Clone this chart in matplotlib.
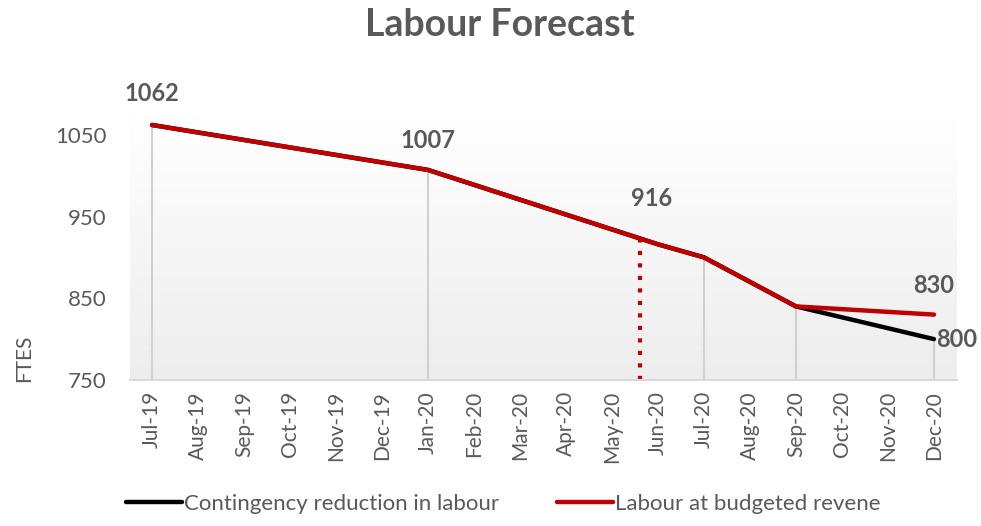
import numpy as np
import matplotlib
matplotlib.use("Agg")
import matplotlib.pyplot as plt
from matplotlib.colors import LinearSegmentedColormap

plt.rcParams['font.family'] = ['Lato', 'DejaVu Sans']

months = ["Jul-19", "Aug-19", "Sep-19", "Oct-19", "Nov-19", "Dec-19",
          "Jan-20", "Feb-20", "Mar-20", "Apr-20", "May-20", "Jun-20",
          "Jul-20", "Aug-20", "Sep-20", "Oct-20", "Nov-20", "Dec-20"]

# points (month index -> FTEs)
budget_x = [0, 6, 11, 12, 14, 17]
budget_y = [1062, 1007, 916, 900, 840, 830]
conting_x = [0, 6, 11, 12, 14, 17]
conting_y = [1062, 1007, 916, 900, 840, 800]

drop_x = [0, 6, 12, 14, 17]
drop_y = [1062, 1007, 900, 840, 800]

marker_x = 10.6   # red dotted marker between May-20 and Jun-20
marker_top = 925

# label text, x, y of the point, extra lift above the point
labels = [("1062", 0, 1062, 24), ("1007", 6, 1007, 22), ("916", 10.85, 916, 42),
          ("830", 17, 830, 22)]

grey = "#595959"
red = "#C00000"

fig = plt.figure(figsize=(9.81, 5.26), dpi=100)
ax = fig.add_axes([0.1325, 0.2776, 0.843, 0.505])

xmin, xmax = -0.48, 17.5
ymin, ymax = 750, 1075

# plot area gradient
cmap = LinearSegmentedColormap.from_list("bg", ["#ffffff", "#ededed"])
grad = np.linspace(0, 1, 256).reshape(-1, 1)
ax.imshow(grad, aspect="auto", cmap=cmap, extent=[xmin, xmax, ymin, ymax],
          origin="upper", zorder=0)

for x, y in zip(drop_x, drop_y):
    ax.plot([x, x], [ymin, y], color="#d0d0d0", lw=1.5, zorder=1)

ax.plot([marker_x, marker_x], [ymin, marker_top], color=red, lw=3,
        linestyle=(0, (1, 2)), dash_capstyle="butt", zorder=2)

l1, = ax.plot(conting_x, conting_y, color="black", lw=3.2, zorder=3,
              solid_capstyle="round", label="Contingency reduction in labour")
l2, = ax.plot(budget_x, budget_y, color=red, lw=3.2, zorder=4,
              solid_capstyle="round", label="Labour at budgeted revene")

for t, x, y, lift in labels:
    ax.text(x, y + lift, t, ha="center", va="bottom", fontsize=17,
            fontweight="bold", color=grey, clip_on=False)
ax.text(17.05, 800, "800", ha="left", va="center", fontsize=17,
        fontweight="bold", color=grey, clip_on=False)

ax.set_xlim(xmin, xmax)
ax.set_ylim(ymin, ymax)
ax.set_xticks(range(len(months)))
ax.set_xticklabels(months, rotation=90, fontsize=15, color=grey)
ax.set_yticks([750, 850, 950, 1050])
ax.tick_params(axis="y", length=0, labelsize=16, labelcolor=grey, pad=17)
ax.tick_params(axis="x", length=0, pad=8)
for s in ["top", "right", "left"]:
    ax.spines[s].set_visible(False)
ax.spines["bottom"].set_color("#d9d9d9")
ax.spines["bottom"].set_linewidth(1.5)

fig.text(0.51, 0.985, "Labour Forecast", ha="center", va="top", fontsize=27,
         fontweight="bold", color=grey)
fig.text(0.025, 1 - 358 / 526, "FTES", rotation=90, ha="center", va="center",
         fontsize=15, color=grey)

leg = fig.legend(handles=[l1, l2], loc="lower center", bbox_to_anchor=(0.513, -0.015),
                 ncol=2, frameon=False, fontsize=16, handlelength=2.5,
                 handletextpad=0.1, columnspacing=2.6, labelcolor=grey)

fig.savefig("out.png", dpi=100)
